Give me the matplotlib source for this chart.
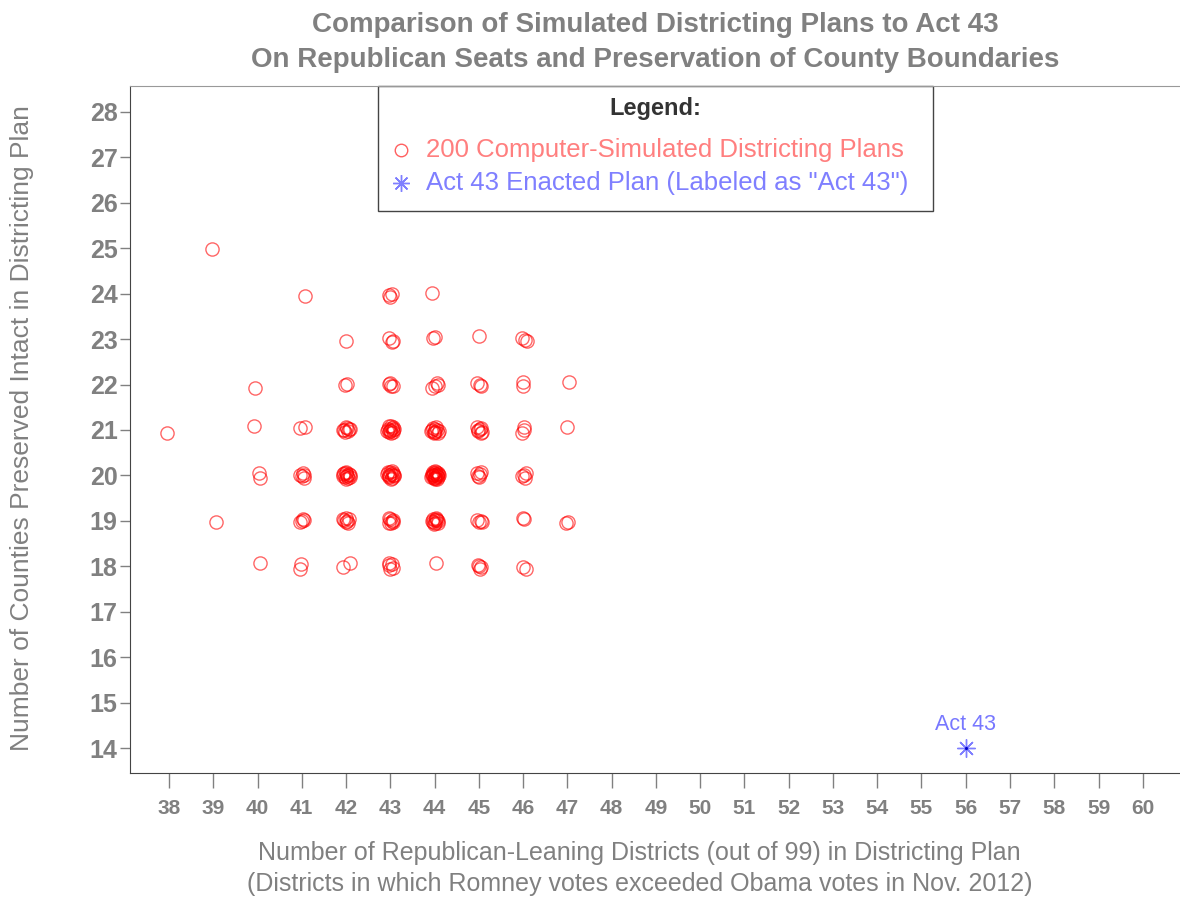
import matplotlib
matplotlib.use("Agg")
from matplotlib import pyplot as plt
from matplotlib.patches import Rectangle

plt.rcParams['font.family'] = ['Liberation Sans', 'DejaVu Sans']

# simulated plans (jittered around integer cells)
row_25 = [(38.97, 24.98)]
row_24 = [(41.07, 23.95), (42.98, 23.96), (43.03, 24.00), (43.00, 23.93), (43.95, 24.02)]
row_23 = [(42.00, 22.96), (42.96, 23.02), (43.04, 22.94), (43.07, 22.96),
          (43.97, 23.03), (44.00, 23.05), (45.00, 23.07),
          (45.98, 23.02), (46.05, 22.98), (46.08, 22.95)]
row_22 = [(39.94, 21.92), (41.97, 21.98), (42.03, 22.02),
          (42.96, 22.02), (43.02, 21.96), (43.05, 21.97), (42.99, 22.04),
          (43.94, 21.93), (44.05, 22.04), (44.02, 21.96), (44.08, 21.99),
          (44.96, 22.04), (45.02, 21.98), (45.06, 21.96),
          (45.99, 22.06), (46.00, 21.97), (47.04, 22.06)]
row_21 = [(37.95, 20.93), (39.92, 21.09), (40.96, 21.05), (41.07, 21.06),
          (41.95, 20.99), (42.02, 21.05), (42.06, 21.03), (41.98, 20.96),
          (42.04, 20.98), (42.08, 21.02), (42.00, 21.07), (41.93, 21.01),
          (42.94, 21.02), (42.98, 20.96), (43.03, 21.05), (43.07, 20.99),
          (43.01, 20.93), (42.96, 21.08), (43.05, 20.95), (43.09, 21.03),
          (42.99, 21.00), (43.02, 21.09), (42.93, 20.97), (43.06, 21.06),
          (43.00, 20.98),
          (43.93, 20.98), (43.97, 21.04), (44.02, 20.95), (44.06, 21.01),
          (44.09, 20.97), (43.99, 20.93), (44.04, 21.06), (43.95, 21.00),
          (44.01, 21.02), (44.07, 20.94), (43.98, 20.96),
          (44.95, 21.06), (44.99, 20.97), (45.04, 20.94), (45.08, 20.96),
          (45.02, 21.02), (44.97, 21.01), (45.06, 21.04),
          (45.97, 20.94), (46.03, 21.06), (46.02, 21.00), (46.99, 21.07)]
row_20 = [(40.04, 20.06), (40.06, 19.95),
          (40.95, 20.01), (41.03, 20.06), (41.06, 19.95), (41.00, 19.98), (41.04, 20.02),
          (41.94, 20.03), (41.97, 19.97), (42.01, 20.06), (42.05, 19.94), (42.08, 20.01),
          (41.99, 20.08), (42.03, 19.99), (41.96, 20.05), (42.06, 20.04), (42.00, 19.93),
          (42.09, 19.97), (41.93, 19.99), (42.02, 20.02),
          (42.93, 20.04), (42.96, 19.96), (43.00, 20.07), (43.04, 19.95), (43.08, 20.02),
          (42.98, 20.01), (43.02, 19.93), (43.06, 20.06), (42.95, 20.08), (43.09, 19.98),
          (43.01, 20.04), (42.97, 19.98), (43.05, 20.00), (43.03, 20.09),
          (43.93, 19.96), (43.95, 20.04), (43.97, 20.08), (44.00, 19.94), (44.02, 20.02),
          (44.05, 19.98), (44.07, 20.06), (44.09, 20.00), (43.96, 20.00), (43.99, 20.05),
          (44.01, 19.97), (44.04, 20.07), (44.06, 19.93), (44.08, 20.03), (43.94, 19.99),
          (43.98, 19.95), (44.03, 20.04), (44.00, 20.09), (44.05, 20.01), (43.97, 20.02),
          (44.08, 19.96), (44.02, 19.92),
          (44.96, 20.05), (45.01, 19.96), (45.03, 20.03), (44.99, 19.99), (45.04, 20.07),
          (45.98, 19.98), (46.03, 20.02), (46.07, 20.06), (46.05, 19.95)]
row_19 = [(39.06, 18.97),
          (40.96, 18.97), (41.02, 19.05), (41.06, 19.02), (41.00, 18.99),
          (41.96, 19.02), (42.01, 19.06), (42.05, 18.96), (41.99, 18.98), (42.07, 19.03),
          (42.03, 19.00), (41.94, 19.04),
          (42.96, 18.96), (43.00, 19.04), (43.04, 19.00), (43.07, 19.02), (42.98, 19.07),
          (43.02, 18.95), (43.05, 18.98),
          (43.94, 19.00), (43.97, 19.05), (44.01, 18.96), (44.04, 19.03), (44.07, 18.99),
          (43.99, 18.93), (44.03, 19.07), (43.96, 18.97), (44.05, 19.01), (44.00, 19.02),
          (44.08, 18.95),
          (44.96, 19.02), (45.01, 18.98), (45.04, 19.00), (45.07, 18.97),
          (45.99, 19.07), (46.02, 19.04), (46.98, 18.95), (47.01, 18.97)]
row_18 = [(40.06, 18.07), (40.97, 17.93), (40.98, 18.05), (41.94, 17.99), (42.08, 18.08),
          (42.96, 18.02), (43.00, 17.93), (43.03, 18.06), (42.98, 18.08), (43.05, 17.97),
          (44.03, 18.07),
          (44.99, 18.02), (45.02, 17.94), (45.04, 17.98), (45.00, 18.00),
          (46.00, 17.99), (46.06, 17.95)]

act43_x = 56
act43_y = 14

x_ticks = list(range(38, 61))
y_ticks = list(range(14, 29))

sim = row_25 + row_24 + row_23 + row_22 + row_21 + row_20 + row_19 + row_18
sim_x = [p[0] for p in sim]
sim_y = [p[1] for p in sim]

grey = '#808080'
fig = plt.figure(figsize=(11.8, 8.97), dpi=100)
ax = fig.add_axes([0.1102, 0.1382, 0.8898, 0.7659])

ax.plot(sim_x, sim_y, 'o', ls='none', ms=9.5, mfc='none', mec=(1, 0, 0, 0.6), mew=1.0)
ax.plot([act43_x], [act43_y], marker=(8, 2, 0), ls='none', ms=13, mec='#7f7fff', mew=1.0)
ax.plot([act43_x], [act43_y], '.', ms=2.5, color='#0000cc')
ax.text(act43_x, act43_y + 0.28, 'Act 43', color='#7777ff', fontsize=15.5,
        ha='center', va='bottom')

ax.set_xlim(37.12, 60.84)
ax.set_ylim(13.45, 28.57)
ax.set_xticks(x_ticks)
ax.set_yticks(y_ticks)
ax.tick_params(axis='x', length=11, width=1, color=grey, pad=8,
               labelsize=15, labelcolor=grey)
ax.tick_params(axis='y', length=7, width=1, color=grey, pad=2,
               labelsize=18, labelcolor=grey)
for lab in ax.get_xticklabels() + ax.get_yticklabels():
    lab.set_fontweight('bold')

ax.spines['right'].set_visible(False)
ax.spines['top'].set_color('#999999')
ax.spines['left'].set_color('#444444')
ax.spines['bottom'].set_color('#444444')

fig.text(0.542, 0.032, 'Number of Republican-Leaning Districts (out of 99) in Districting Plan\n'
         '(Districts in which Romney votes exceeded Obama votes in Nov. 2012)',
         ha='center', va='center', fontsize=18, color=grey, linespacing=1.37)
fig.text(0.0186, 0.523, 'Number of Counties Preserved Intact in Districting Plan',
         rotation=90, ha='center', va='center', fontsize=19, color=grey)
fig.text(0.555, 0.9525, 'Comparison of Simulated Districting Plans to Act 43\n'
         'On Republican Seats and Preservation of County Boundaries',
         ha='center', va='center', fontsize=20, fontweight='bold', color=grey,
         linespacing=1.43)

# legend box
ax.add_patch(Rectangle((0.236, 0.818), 0.529, 0.182, transform=ax.transAxes,
                       fill=False, ec='#444444', lw=1, clip_on=False))
ax.text(0.5, 0.968, 'Legend:', transform=ax.transAxes, ha='center', va='center',
        fontsize=17, fontweight='bold', color='#333333')
ax.plot([0.258], [0.907], 'o', transform=ax.transAxes, ms=9, mfc='none',
        mec='#ff6060', mew=1)
ax.text(0.282, 0.907, '200 Computer-Simulated Districting Plans', transform=ax.transAxes,
        va='center', fontsize=18.5, color='#ff7f7f')
ax.plot([0.258], [0.859], marker=(8, 2, 0), transform=ax.transAxes, ms=12,
        mec='#7f7fff', mew=1)
ax.text(0.282, 0.859, 'Act 43 Enacted Plan (Labeled as "Act 43")', transform=ax.transAxes,
        va='center', fontsize=18.5, color='#7f7fff')

fig.savefig('out.png', dpi=100)
